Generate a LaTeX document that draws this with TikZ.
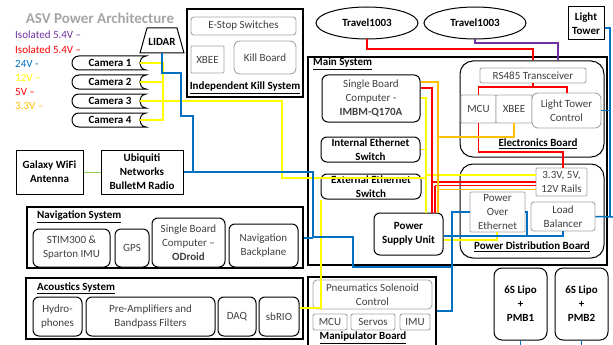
\documentclass[tikz,border=0pt]{standalone}
\usepackage{fontspec}
\setmainfont{Carlito}
\usetikzlibrary{shapes.geometric}
\definecolor{wyel}{HTML}{FFFF00}
\definecolor{wblue}{HTML}{0070C0}
\definecolor{wred}{HTML}{FF0000}
\definecolor{wora}{HTML}{FFC000}
\definecolor{wpur}{HTML}{7030A0}
\definecolor{wgrn}{HTML}{92D050}
\definecolor{txt}{HTML}{404040}
\definecolor{gbord}{HTML}{A6A6A6}
\newcommand\boxat[6]{\node[#1, minimum width={(#4)-(#2)}, minimum height={(#5)-(#3)}] (#6) at ({((#2)+(#4))/2},{((#3)+(#5))/2})}
\tikzset{
  nf/.style={font=\fontsize{11}{14}\selectfont},
  bf/.style={font=\fontsize{11}{14}\selectfont\bfseries},
  bk/.style={draw=black, line width=1pt, rounded corners=6pt, fill=white, text=txt},
  sharpbox/.style={draw=black, line width=1pt, fill=white},
  gb/.style={draw=gbord, line width=0.9pt, rounded corners=2pt, fill=white, text=txt},
  grp/.style={draw=black, line width=1.6pt, fill=white},
  bigr/.style={draw=black, line width=1pt, rounded corners=13pt, fill=white},
  wire/.style={line width=1.5pt},
  campic/.pic={
    \draw[line width=1pt, fill=white] (37,-7) -- (-30,-7) .. controls (-39.3,-7) and (-39.3,7) .. (-30,7) -- (37,7) .. controls (32,6) and (31,3) .. (31,0) .. controls (31,-3) and (32,-6) .. (37,-7) -- cycle;
    \coordinate (-tip) at (31,0);
  }
}
\begin{document}
\begin{tikzpicture}[x=1pt,y=-1pt, every node/.style={nf, inner sep=0pt, align=center}]
\useasboundingbox (0,0) rectangle (613,345);
\fill[white] (0,0) rectangle (613,345);

% title and legend
\node[font=\fontsize{15}{17}\selectfont\bfseries, text=gray!70] (title) at (100,18) {ASV Power Architecture};
\node[anchor=west, text=wpur] (lg1) at (15,35) {Isolated 5.4V –};
\node[anchor=west, text=wred] (lg2) at (15,50) {Isolated 5.4V –};
\node[anchor=west, text=wblue] (lg3) at (15,64) {24V -};
\node[anchor=west, text=wyel] (lg4) at (15,78) {12V –};
\node[anchor=west, text=wred] (lg5) at (15,92) {5V –};
\node[anchor=west, text=wora] (lg6) at (15,106) {3.3V –};

% LIDAR
\draw[line width=1pt, fill=white] (147,28) -- (177,28) -- (184,53) -- (140,53) -- cycle;
\node[bf] (lidar) at (162,42) {LIDAR};
\coordinate (lidarb) at (162,53);

% cameras
\pic (c1) at (109,63) {campic};
\pic (c2) at (109,82) {campic};
\pic (c3) at (109,101) {campic};
\pic (c4) at (109,120) {campic};
\node[bf] (cam1) at (110,63) {Camera 1};
\node[bf] (cam2) at (110,82) {Camera 2};
\node[bf] (cam3) at (110,101) {Camera 3};
\node[bf] (cam4) at (110,120) {Camera 4};

% kill system
\boxat{grp}{187}{9}{303}{97}{kill} {};
\boxat{gb, rounded corners=3pt}{191}{17}{296}{35}{estop} {E-Stop Switches};
\boxat{gb, rounded corners=1pt}{191}{46}{224}{73}{kxb} {XBEE};
\boxat{gb, rounded corners=6pt}{234}{41}{296}{74}{kb} {Kill Board};
\node[bf] (killl) at (245,88) {\underline{Independent Kill System}};

% top devices
\node[draw, line width=1pt, ellipse, minimum width=102, minimum height=32, fill=white, bf] (travL) at (367,23) {Travel1003};
\node[draw, line width=1pt, ellipse, minimum width=102, minimum height=32, fill=white, bf] (travR) at (475,23) {Travel1003};
\boxat{sharpbox, bf}{568}{7}{604}{40}{lt} {Light\\Tower};

% wifi
\boxat{sharpbox, bf}{16}{150}{83}{194}{gal} {Galaxy WiFi\\Antenna};
\boxat{sharpbox, bf}{101}{150}{183}{194}{ubq} {Ubiquiti\\Networks\\BulletM Radio};

% main system
\boxat{grp, line width=1.3pt}{308}{57}{607}{265}{main} {};
\node[bf, anchor=west] (mainl) at (313,64) {\underline{Main System}};
\boxat{bk}{322}{75}{420}{122}{sbc} {Single Board\\Computer -\\\textbf{IMBM-Q170A}};
\boxat{bk, bf, text=black}{321}{137}{420}{162}{intsw} {Internal Ethernet\\Switch};
\boxat{bk, bf, text=black}{321}{174}{421}{199}{extsw} {External Ethernet\\Switch};
\boxat{bk, bf, text=black}{374}{213}{443}{255}{psu} {Power\\Supply Unit};

% electronics board
\boxat{bigr}{460}{61}{604}{157}{eb} {};
\boxat{gb}{480}{68}{586}{83}{rs} {RS485 Transceiver};
\boxat{gb, rounded corners=1pt}{461}{95}{496}{123}{mcu} {MCU};
\boxat{gb, rounded corners=1pt}{496}{95}{532}{123}{xb} {XBEE};
\boxat{gb, rounded corners=6pt}{532}{93}{601}{128}{ltc} {Light Tower\\Control};
\node[bf] (ebl) at (538,144) {\underline{Electronics Board}};

% power distribution board
\boxat{bigr}{460}{164}{604}{258}{pdb} {};
\boxat{gb, rounded corners=1pt}{536}{168}{587}{196}{rails} {3.3V, 5V,\\12V Rails};
\boxat{gb, rounded corners=1pt}{470}{192}{525}{232}{poe} {Power\\Over\\Ethernet};
\boxat{gb, rounded corners=3pt}{531}{202}{595}{231}{lb} {Load\\Balancer};
\node[bf] (pdbl) at (532,247) {\underline{Power Distribution Board}};

% navigation system
\boxat{grp}{27}{207}{303}{268}{navsys} {};
\node[bf, anchor=west] (navl) at (37,217) {\underline{Navigation System}};
\boxat{bk}{33}{229}{110}{267}{stim} {STIM300 \&\\Sparton IMU};
\boxat{bk}{115}{229}{149}{267}{gps} {GPS};
\boxat{bk}{152}{218}{225}{267}{odr} {Single Board\\Computer –\\\textbf{ODroid}};
\boxat{bk}{229}{224}{298}{267}{navbp} {Navigation\\Backplane};

% acoustics system
\boxat{grp}{26}{278}{303}{339}{acou} {};
\node[bf, anchor=west] (acl) at (37,288) {\underline{Acoustics System}};
\boxat{bk}{33}{297}{82}{336}{hyd} {Hydro-\\phones};
\boxat{bk}{86}{297}{215}{336}{pre} {Pre-Amplifiers and\\Bandpass Filters};
\boxat{bk}{218}{297}{256}{336}{daq} {DAQ};
\boxat{bk}{259}{297}{299}{336}{sbrio} {sbRIO};

% manipulator board
\boxat{grp}{308}{277}{436}{350}{manip} {};
\boxat{gb, rounded corners=4pt}{313}{280}{432}{309}{pneu} {Pneumatics Solenoid\\Control};
\boxat{gb}{313}{314}{347}{330}{mmcu} {MCU};
\boxat{gb}{351}{314}{395}{330}{serv} {Servos};
\boxat{gb}{400}{314}{430}{330}{imu} {IMU};
\node[bf] (manl) at (363,338) {\underline{Manipulator Board}};

% batteries
\boxat{bk, bf, text=black, rounded corners=8pt}{494}{268}{547}{340}{lipo1} {6S Lipo\\+\\PMB1};
\boxat{bk, bf, text=black, rounded corners=8pt}{555}{268}{608}{340}{lipo2} {6S Lipo\\+\\PMB2};

% ---------- wires ----------
% green
\draw[wgrn, line width=1pt] (gal.east) -- (ubq.west);
% yellow 12V
\draw[wire, wyel] (c1-tip) -- (163,63) -- (163,120) -- (c4-tip);
\draw[wire, wyel] (c2-tip) -- (163,82);
\draw[wire, wyel] (c3-tip) -- (282,101) -- (282,178) -- (426,178);
\draw[wire, wyel] (sbc.east |- 0,98) -- (426,98) -- (psu.north -| 426,0);
\draw[wire, wyel] (intsw.east) -- (intsw.east -| 426,0);
\draw[wire, wyel] (426,175) -- (rails.west |- 0,175);
\draw[wire, wyel] (extsw.south -| 321,0) -- (321,308) -- (sbrio.east |- 0,308);
\draw[wire, wyel] (psu.east |- 0,240) -- (497,240) -- (poe.south -| 497,0);
% blue 24V
\draw[wire, wblue] (lidarb) -- (162,73) -- (181,73) -- (181,116) -- (193,116) -- (193,172);
\draw[wire, wblue] (ubq.east) -- (313,172) -- (313,237) -- (353,237) -- (353,267) -- (452,267);
\draw[wire, wblue] (navsys.east |- 0,238) -- (313,238);
\draw[wire, wblue] (poe.west |- 0,212) -- (452,212) -- (452,311) -- (manip.east |- 0,311);
\draw[wire, wblue] (psu.east |- 0,236) -- (563,236) -- (lb.south -| 563,0);
\draw[wire, wblue] (poe.east |- 0,212) -- (527,212) -- (527,236);
\draw[wire, wblue] (lb.east) -- (613,217);
\draw[wire, wblue] (lt.east |- 0,28) -- (610,28) -- (610,217);
\draw[wire, wblue] (ltc.east) -- (ltc.east -| 610,0);
\draw[wire, wblue] (lipo1.south) -- ++(0,8);
\draw[wire, wblue] (lipo2.south) -- ++(0,8);
% red
\draw[wire, wred] (travL.south) -- (367,49) -- (533,49) -- (eb.north -| 533,0);
\draw[wire, wred] (rs.south -| 533,0) -- (533,87);
\draw[wire, wred] (mcu.north) -- (mcu.north |- 0,87) -- (567,87) -- (ltc.north -| 567,0);
\draw[wire, wred] (mcu.south) -- (mcu.south |- 0,152) -- (563,152) -- (rails.north -| 563,0);
\draw[wire, wred] (sbc.east |- 0,88) -- (432,88) -- (psu.north -| 432,0);
\draw[wire, wred] (432,182) -- (rails.west |- 0,182);
\draw[wire, wred] (435,185.5) -- (rails.west |- 0,185.5);
\draw[wire, wred] (435,185.5) -- (psu.north -| 435,0);
% orange 3.3V
\draw[wire, wora] (sbc.east |- 0,82) -- (438,82) -- (psu.north -| 438,0);
\draw[wire, wora] (438,137) -- (514,137) -- (xb.south -| 514,0);
\draw[wire, wora] (438,189.5) -- (rails.west |- 0,189.5);
% purple
\draw[wire, wpur] (travR.south) -- (475,43) -- (558,43) -- (eb.north -| 558,0);
\end{tikzpicture}
\end{document}
